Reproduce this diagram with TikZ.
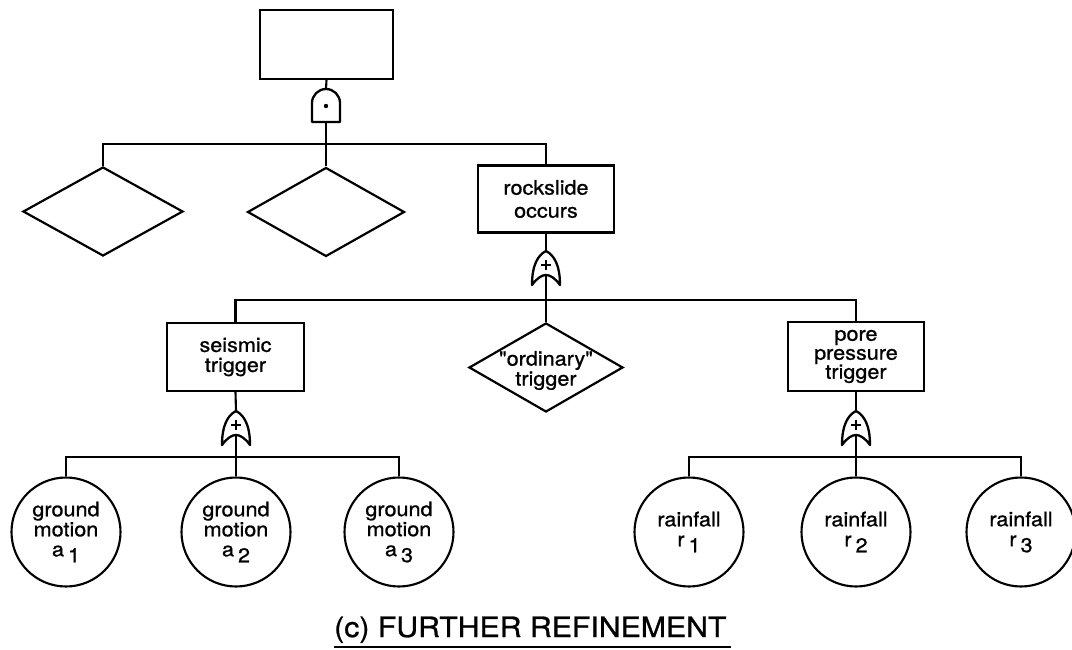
\documentclass[tikz,border=0pt]{standalone}
\usepackage{fontspec}
\setmainfont{TeX Gyre Heros}[FakeStretch=1.08,FakeBold=0.9,Ligatures=TeXOff]
\usetikzlibrary{shapes.geometric,calc}
% lowered index as printed after a symbol, e.g. a 1
\newcommand\lowidx[1]{\hspace{4pt}\raisebox{-6pt}{#1}}
\begin{document}
\begin{tikzpicture}[x=1pt,y=-1pt,
  every node/.style={font=\fontsize{20}{20}\selectfont},
  line/.style={line width=2.1pt},
  evbox/.style={draw,line width=2.4pt,minimum width=136pt,minimum height=67pt,inner sep=0pt,align=center},
  cond/.style={draw,diamond,line width=2.2pt,inner sep=0pt,minimum width=158pt,minimum height=89pt},
  basic/.style={draw,circle,line width=2.1pt,minimum size=109pt,inner sep=0pt,align=center},
  gatebox/.style={inner sep=0pt,minimum width=28pt,minimum height=34pt},
  gate/.style={line width=2.3pt,line join=round},
  orgate/.pic={
    \draw[gate,fill=white] (0,-17) .. controls (8,-13) and (14,-3) .. (14,17)
      .. controls (9,10) and (4,7) .. (0,7)
      .. controls (-4,7) and (-9,10) .. (-14,17)
      .. controls (-14,-3) and (-8,-13) .. (0,-17) -- cycle;
    \draw[line width=2.6pt] (-5,-3) -- (5,-3) (0,-8) -- (0,2);
  },
  andgate/.pic={
    \draw[gate,fill=white] (-14,16.5) -- (-14,-2.5) arc[start angle=180,end angle=360,radius=14]
      -- (14,16.5) -- cycle;
    \fill (0,0.5) circle (2.2);
  }
]
\useasboundingbox (0,0) rectangle (1072,650);

% top event and AND gate
\node[evbox,minimum width=133pt,minimum height=69pt] (top) at (326.5,44.5) {};
\node[gatebox,minimum height=33pt] (andg) at (326,105.5) {};
\pic at (andg) {andgate};
\coordinate (j1) at (326,144);

% first level
\node[cond,minimum width=160pt] (d1) at (103,211.5) {};
\node[cond,minimum width=157pt] (d2) at (326,212) {};
\node[evbox,font=\fontsize{20}{23}\selectfont] (rock) at (546,199) {rockslide\\occurs};
\node[gatebox] (or1) at (546,268) {};
\pic at (or1) {orgate};
\coordinate (j2) at (546,300);

% triggers
\node[evbox,minimum width=137pt,minimum height=68pt] (seis) at (235.5,357) {seismic\\trigger};
\node[cond,minimum width=154pt,
  label={[align=center,yshift=-3pt]center:{"ordinary"\\trigger}}] (ordi) at (546,367.5) {};
\node[evbox,minimum height=69pt,font=\fontsize{20}{19}\selectfont] (pore) at (856,356.5) {pore\\pressure\\trigger};
\node[gatebox] (or2) at (236,428) {};
\pic at (or2) {orgate};
\node[gatebox] (or3) at (856,428) {};
\pic at (or3) {orgate};
\coordinate (j3) at (236,457);
\coordinate (j4) at (856,457);

% basic events
\node[basic] (a1) at (66,532) {ground\\motion\\a\lowidx{1}};
\node[basic] (a2) at (236,532) {ground\\motion\\a\lowidx{2}};
\node[basic] (a3) at (399,532) {ground\\motion\\a\lowidx{3}};
\node[basic] (r1) at (689,532) {rainfall\\r\lowidx{1}};
\node[basic] (r2) at (856,532) {rainfall\\r\lowidx{2}};
\node[basic] (r3) at (1021,532) {rainfall\\r\lowidx{3}};

% connectors
\draw[line] (top.south) -- (andg.north);
\draw[line] (andg.south) -- (j1) -- (d2.north);
\draw[line] (d1.north) |- (j1) -| (rock.north);
\draw[line] (rock.south) -- (or1.north);
\draw[line] ($(or1.center)+(0,7)$) -- (j2) -- (ordi.north);
\draw[line] (seis.north) |- (j2) -| (pore.north);
\draw[line] (seis.south) -- (or2.north);
\draw[line] ($(or2.center)+(0,7)$) -- (a2.north);
\draw[line] (a1.north) |- (j3) -| (a3.north);
\draw[line] (pore.south) -- (or3.north);
\draw[line] ($(or3.center)+(0,7)$) -- (r2.north);
\draw[line] (r1.north) |- (j4) -| (r3.north);

% caption
\node[font=\fontsize{28}{30}\selectfont,anchor=base west,inner xsep=0pt] (title) at (334,637) {(c) FURTHER REFINEMENT};
\draw[line width=2.4pt] ([yshift=-10pt]title.base west) -- ([yshift=-10pt,xshift=4pt]title.base east);
\end{tikzpicture}
\end{document}
